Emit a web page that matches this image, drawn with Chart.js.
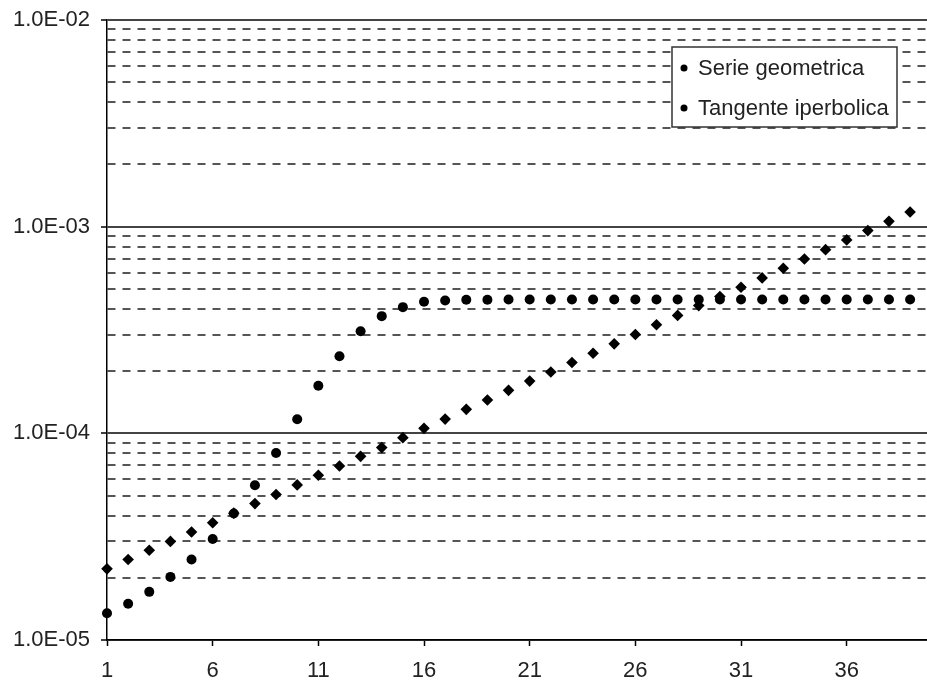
<!DOCTYPE html>
<html lang="it">
<head>
<meta charset="UTF-8">
<title>Serie geometrica e tangente iperbolica</title>
<script src="https://cdn.jsdelivr.net/npm/chart.js"></script>
<style>
  html, body { margin: 0; padding: 0; background: #fff; }
</style>
</head>
<body>
<canvas id="grafico" width="927" height="686"></canvas>
<script>
    // valori (asse y logaritmico)
    const indici = [1, 2, 3, 4, 5, 6, 7, 8, 9, 10, 11, 12, 13, 14, 15, 16, 17, 18, 19, 20,
        21, 22, 23, 24, 25, 26, 27, 28, 29, 30, 31, 32, 33, 34, 35, 36, 37, 38, 39];

    const serieGeometrica = [2.21e-5, 2.45e-5, 2.72e-5, 3.00e-5, 3.33e-5, 3.69e-5, 4.11e-5, 4.57e-5,
        5.06e-5, 5.63e-5, 6.27e-5, 6.95e-5, 7.74e-5, 8.53e-5, 9.53e-5, 1.057e-4, 1.172e-4, 1.306e-4,
        1.449e-4, 1.614e-4, 1.790e-4, 1.98e-4, 2.20e-4, 2.44e-4, 2.71e-4, 3.01e-4, 3.35e-4, 3.72e-4,
        4.15e-4, 4.59e-4, 5.09e-4, 5.65e-4, 6.29e-4, 6.98e-4, 7.74e-4, 8.63e-4, 9.57e-4, 1.061e-3, 1.178e-3];

    const tangenteIperbolica = [1.346e-5, 1.497e-5, 1.71e-5, 2.02e-5, 2.45e-5, 3.08e-5, 4.09e-5, 5.61e-5,
        8.03e-5, 1.169e-4, 1.70e-4, 2.36e-4, 3.12e-4, 3.69e-4, 4.08e-4, 4.33e-4, 4.39e-4, 4.43e-4,
        4.43e-4, 4.44e-4, 4.44e-4, 4.44e-4, 4.44e-4, 4.44e-4, 4.44e-4, 4.44e-4, 4.44e-4, 4.44e-4,
        4.44e-4, 4.44e-4, 4.44e-4, 4.44e-4, 4.44e-4, 4.44e-4, 4.44e-4, 4.44e-4, 4.44e-4, 4.44e-4, 4.44e-4];

    const tickX = [1, 6, 11, 16, 21, 26, 31, 36];
    const decadiY = [1e-5, 1e-4, 1e-3, 1e-2];

    const FONT = '"Liberation Sans", Arial, sans-serif';

    function isDecade(v) {
        const e = Math.log10(v);
        return Math.abs(e - Math.round(e)) < 1e-6;
    }

    function etichettaY(v) {
        if (!isDecade(v)) return '';
        const e = Math.round(Math.log10(v));
        return '1.0E' + (e < 0 ? '-' : '+') + String(Math.abs(e)).padStart(2, '0');
    }

    // legenda disegnata dentro l'area del grafico, in alto a destra
    const legendaInterna = {
        id: 'legendaInterna',
        afterDraw(chart) {
            const ctx = chart.ctx;
            const bx = 672, by = 47, bw = 225, bh = 80;
            ctx.save();
            ctx.fillStyle = '#fff';
            ctx.fillRect(bx, by, bw, bh);
            ctx.strokeStyle = '#333';
            ctx.lineWidth = 1.5;
            ctx.strokeRect(bx, by, bw, bh);
            ctx.font = '22px ' + FONT;
            ctx.textBaseline = 'middle';
            ctx.textAlign = 'left';
            chart.data.datasets.forEach((ds, i) => {
                const cy = by + 21 + i * 40;
                ctx.fillStyle = '#000';
                ctx.beginPath();
                ctx.arc(bx + 12, cy, 3.5, 0, Math.PI * 2);
                ctx.fill();
                ctx.fillStyle = '#222';
                ctx.fillText(ds.label, bx + 26, cy + 1);
            });
            ctx.restore();
        }
    };

    const ctx = document.getElementById('grafico').getContext('2d');

    new Chart(ctx, {
        type: 'scatter',
        data: {
            datasets: [{
                label: 'Serie geometrica',
                data: indici.map((x, i) => ({x: x, y: serieGeometrica[i]})),
                pointStyle: 'rectRot',
                pointRadius: 5.8,
                pointHoverRadius: 5.8,
                backgroundColor: '#000',
                borderColor: '#000',
                borderWidth: 0,
                clip: false
            }, {
                label: 'Tangente iperbolica',
                data: indici.map((x, i) => ({x: x, y: tangenteIperbolica[i]})),
                pointStyle: 'circle',
                pointRadius: 5,
                pointHoverRadius: 5,
                backgroundColor: '#000',
                borderColor: '#000',
                borderWidth: 0,
                clip: false
            }]
        },
        options: {
            responsive: false,
            animation: false,
            layout: {autoPadding: false, padding: {top: 20, right: 0, bottom: 0, left: 0}},
            plugins: {
                legend: {display: false},
                tooltip: {enabled: false}
            },
            scales: {
                x: {
                    type: 'linear',
                    min: 1,
                    max: 39.8,
                    afterBuildTicks: (scale) => {
                        scale.ticks = tickX.map(v => ({value: v}));
                    },
                    afterFit: (scale) => { scale.height = 46; },
                    grid: {
                        drawOnChartArea: false,
                        drawTicks: true,
                        tickLength: 6,
                        tickColor: '#000',
                        tickWidth: 1.5
                    },
                    border: {color: '#000', width: 1.5},
                    ticks: {
                        autoSkip: false,
                        maxRotation: 0,
                        padding: 12,
                        color: '#222',
                        font: {size: 22, family: FONT},
                        callback: (v) => String(v)
                    }
                },
                y: {
                    type: 'logarithmic',
                    min: 1e-5,
                    max: 1e-2,
                    afterBuildTicks: (scale) => {
                        const t = [];
                        for (let d = 0; d < decadiY.length - 1; d++) {
                            for (let m = 1; m <= 9; m++) t.push({value: decadiY[d] * m});
                        }
                        t.push({value: decadiY[decadiY.length - 1]});
                        scale.ticks = t;
                    },
                    afterFit: (scale) => {
                        scale.width = 107;
                        scale.paddingTop = 0;
                        scale.paddingBottom = 0;
                    },
                    grid: {
                        color: (c) => (c.tick && isDecade(c.tick.value)) ? '#444' : '#555',
                        lineWidth: 2,
                        drawTicks: true,
                        tickLength: 6,
                        tickColor: (c) => (c.tick && isDecade(c.tick.value)) ? '#000' : 'rgba(0,0,0,0)',
                        tickWidth: 1.5
                    },
                    border: {
                        color: '#000',
                        width: 1.5,
                        dash: (c) => (c.tick && !isDecade(c.tick.value)) ? [8, 7] : []
                    },
                    ticks: {
                        autoSkip: false,
                        padding: 11,
                        color: '#222',
                        font: {size: 22, family: FONT},
                        callback: (v) => etichettaY(v)
                    }
                }
            }
        },
        plugins: [legendaInterna]
    });
</script>
</body>
</html>
